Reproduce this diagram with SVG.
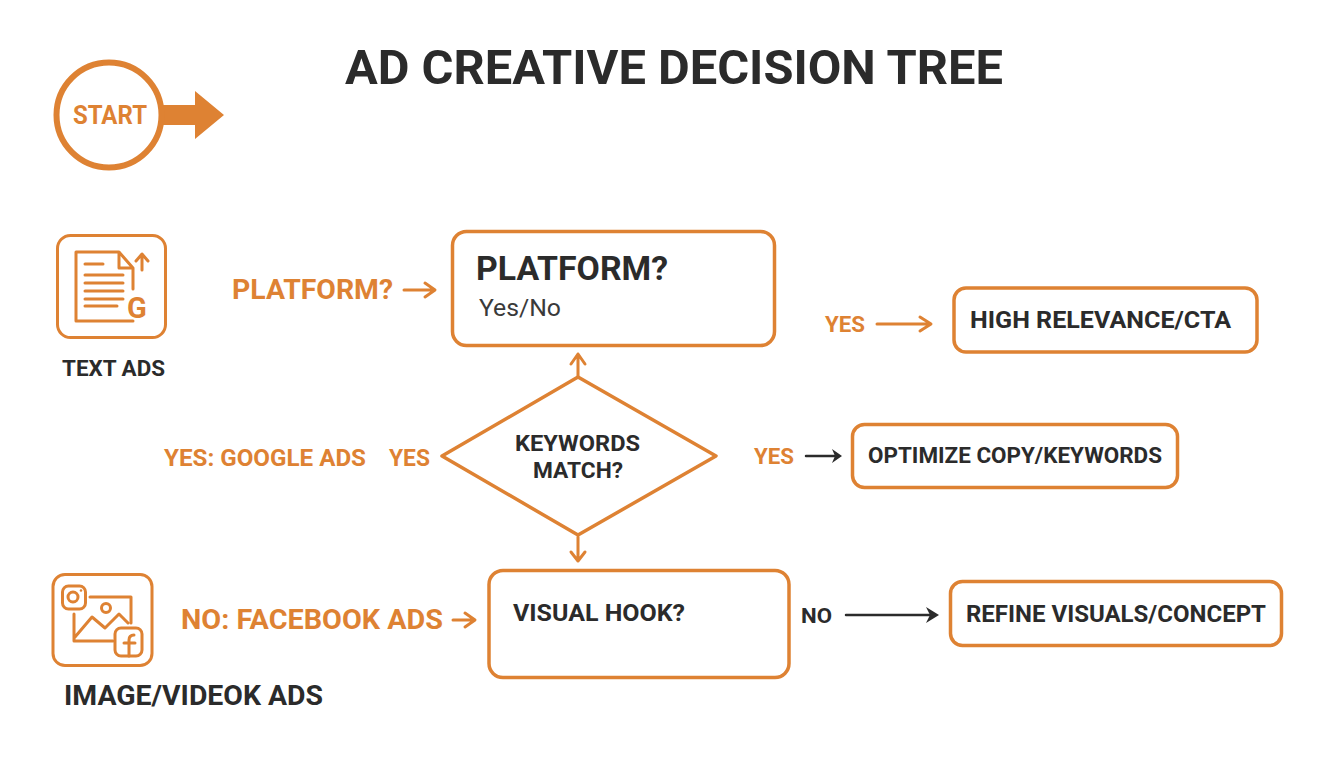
<svg xmlns="http://www.w3.org/2000/svg" width="1344" height="768" viewBox="0 0 1344 768">
<style>
text{font-family:Roboto,"Liberation Sans",sans-serif;font-weight:700}
.d{fill:#2b2b2b}
.o{fill:#de8233}
.box{fill:#fff;stroke:#de8233;stroke-width:3.5}
.ic{fill:none;stroke:#de8233;stroke-width:3;stroke-linecap:round;stroke-linejoin:round}
.ln{fill:none;stroke:#de8233;stroke-width:3;stroke-linecap:round;stroke-linejoin:round}
.lk{fill:none;stroke:#2b2b2b;stroke-width:2.500;stroke-linecap:round;stroke-linejoin:round}
</style>
<rect width="1344" height="768" fill="#fff"/>
<text id="title" class="d" x="345" y="84" font-size="49" textLength="658" lengthAdjust="spacingAndGlyphs">AD CREATIVE DECISION TREE</text>
<g id="connectors">
<path d="M163 105H195V91L224 115L195 139V125H163Z" fill="#de8233"/>
<path class="ln" d="M404 290H434M425 283L435 290L425 297"/>
<path class="ln" d="M578 376V354M571 364L578 354L585 364" stroke-width="3.500"/>
<path class="ln" d="M578 537V561M571 552L578 561L585 552" stroke-width="3.500"/>
<path class="ln" d="M877 324H930M920 317L931 324L920 331"/>
<path class="lk" d="M806 456H838" stroke-width="3"/>
<path d="M832 449L842 456L832 463L835 456Z" fill="#2b2b2b"/>
<path class="ln" d="M453 620H474M465 613L475 620L465 627"/>
<path class="lk" d="M846 615H932" stroke-width="2.800"/>
<path d="M926 607L939 615L926 623L930 615Z" fill="#2b2b2b"/>
</g>
<g id="start">
<circle cx="109" cy="115" r="52.500" fill="#fff" stroke="#de8233" stroke-width="6"/>
<text class="o" x="73" y="124" font-size="25" textLength="74" lengthAdjust="spacingAndGlyphs">START</text>
</g>
<g id="text-ads">
<rect class="ic" x="57.500" y="235.500" width="108" height="102" rx="13"/>
<path class="ic" d="M133 321H76V252H119L133 268V289M119 252V268H133"/>
<path class="ic" d="M85 264H103M85 275H123M85 283H123M85 291H123M85 299H123M85 306H117M142 270V255M136 261L142 254L148 261"/>
<text class="o" x="137" y="318" font-size="29" text-anchor="middle">G</text>
<text class="d" x="62" y="376" font-size="21.500" textLength="103" lengthAdjust="spacingAndGlyphs">TEXT ADS</text>
</g>
<g id="platform-label"><text class="o" x="232" y="299" font-size="28" textLength="161" lengthAdjust="spacingAndGlyphs">PLATFORM?</text></g>
<g id="platform">
<rect class="box" x="452.500" y="231.500" width="322" height="114" rx="14"/>
<text class="d" x="476" y="280" font-size="33" textLength="192" lengthAdjust="spacingAndGlyphs">PLATFORM?</text>
<text x="479" y="316" font-size="23.500" textLength="82" lengthAdjust="spacingAndGlyphs" style="font-weight:400" fill="#3a3a3a">Yes/No</text>
</g>
<g id="keywords">
<path d="M578 377L716 456L578 535L442 456Z" fill="#fff" stroke="#de8233" stroke-width="3.500" stroke-linejoin="round"/>
<text class="d" x="515" y="451" font-size="22.500" textLength="125" lengthAdjust="spacingAndGlyphs">KEYWORDS</text>
<text class="d" x="533" y="478" font-size="22.500" textLength="90" lengthAdjust="spacingAndGlyphs">MATCH?</text>
</g>
<g id="yes-google"><text class="o" x="164" y="466" font-size="23.500" textLength="202" lengthAdjust="spacingAndGlyphs">YES: GOOGLE ADS</text><text class="o" x="389" y="466" font-size="23" textLength="41" lengthAdjust="spacingAndGlyphs">YES</text></g>
<g id="yes1"><text class="o" x="825" y="332" font-size="22" textLength="40" lengthAdjust="spacingAndGlyphs">YES</text></g>
<g id="yes2"><text class="o" x="754" y="464" font-size="22" textLength="40" lengthAdjust="spacingAndGlyphs">YES</text></g>
<g id="high">
<rect class="box" x="954" y="288" width="303" height="64" rx="12"/>
<text class="d" x="970" y="328" font-size="23.500" textLength="261" lengthAdjust="spacingAndGlyphs">HIGH RELEVANCE/CTA</text>
</g>
<g id="optimize">
<rect class="box" x="852.500" y="424.500" width="325" height="63" rx="12"/>
<text class="d" x="868" y="463" font-size="22.500" textLength="294" lengthAdjust="spacingAndGlyphs">OPTIMIZE COPY/KEYWORDS</text>
</g>
<g id="image-ads">
<rect class="ic" x="53" y="574.500" width="99" height="91" rx="12"/>
<rect class="ic" x="62.500" y="586" width="23" height="23" rx="6"/>
<circle class="ic" cx="73" cy="597" r="5"/>
<circle cx="81" cy="590.500" r="1.300" fill="#de8233"/>
<path class="ic" d="M90 597H131V623M74 614V641H113M75 637L92 617L105 628L119 614L128 623"/>
<circle class="ic" cx="106" cy="608" r="4.500"/>
<rect class="ic" x="115" y="628" width="27" height="28" rx="6"/>
<path class="ic" d="M129 656V640Q129 635 134 635M124 643H135" stroke-width="3.500"/>
<text class="d" x="64" y="705" font-size="28" textLength="259" lengthAdjust="spacingAndGlyphs">IMAGE/VIDEOK ADS</text>
</g>
<g id="no-facebook"><text class="o" x="181" y="629" font-size="28.500" textLength="262" lengthAdjust="spacingAndGlyphs">NO: FACEBOOK ADS</text></g>
<g id="visual">
<rect class="box" x="489" y="570.500" width="300" height="107" rx="14"/>
<text class="d" x="513" y="621" font-size="24" textLength="172" lengthAdjust="spacingAndGlyphs">VISUAL HOOK?</text>
</g>
<g id="no"><text class="d" x="801" y="623" font-size="21" textLength="31" lengthAdjust="spacingAndGlyphs">NO</text></g>
<g id="refine">
<rect class="box" x="950.500" y="581.500" width="331" height="64" rx="12"/>
<text class="d" x="966" y="622" font-size="24" textLength="300" lengthAdjust="spacingAndGlyphs">REFINE VISUALS/CONCEPT</text>
</g>
</svg>
